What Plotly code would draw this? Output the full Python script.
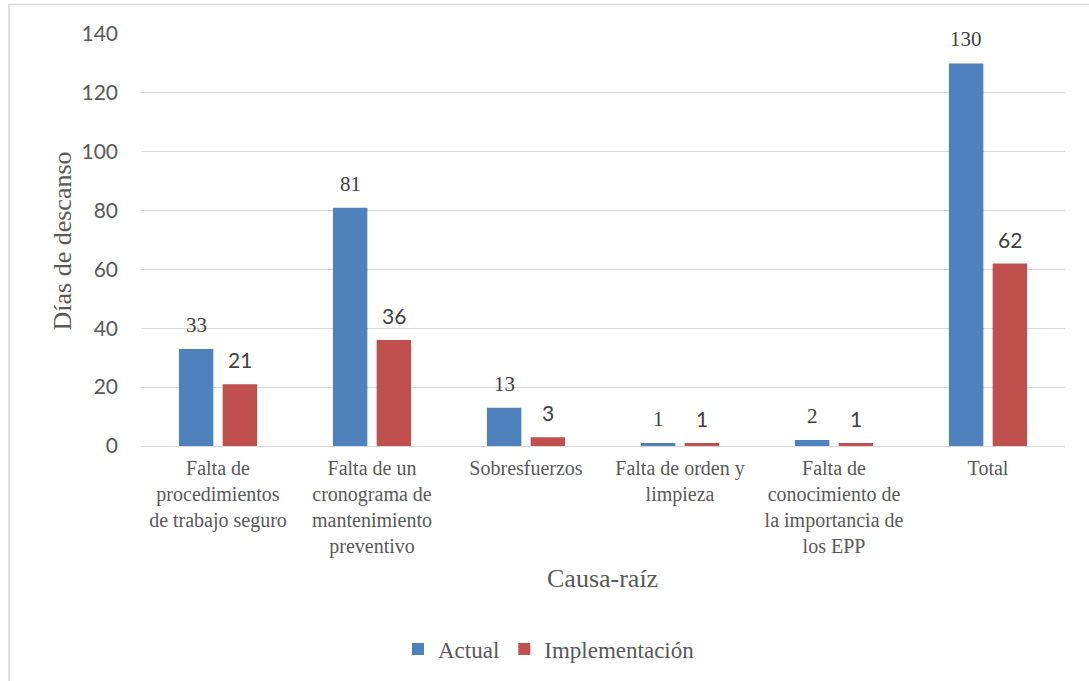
import plotly.graph_objects as go

# Root causes and rest days per scenario
categorias = [
    "Falta de<br>procedimientos<br>de trabajo seguro",
    "Falta de un<br>cronograma de<br>mantenimiento<br>preventivo",
    "Sobresfuerzos",
    "Falta de orden y<br>limpieza",
    "Falta de<br>conocimiento de<br>la importancia de<br>los EPP",
    "Total",
]
claves = ["c1", "c2", "c3", "c4", "c5", "c6"]
actual = [33, 81, 13, 1, 2, 130]
implementacion = [21, 36, 3, 1, 1, 62]
ticks_y = [0, 20, 40, 60, 80, 100, 120, 140]

AZUL = "#4F81BD"
ROJO = "#C0504D"
GRIS = "#595959"
SERIF = "Liberation Serif, Times New Roman, serif"
SANS = "Lato, Carlito, Calibri, sans-serif"

W, H = 1089, 681
L, R, T, B = 141, 24, 34, 234
pw, ph = W - L - R, H - T - B

fig = go.Figure()
fig.add_trace(go.Bar(name="Actual", x=claves, y=actual, marker_color=AZUL,
                     marker_line_width=0))
fig.add_trace(go.Bar(name="Implementación", x=claves, y=implementacion,
                     marker_color=ROJO, marker_line_width=0))

bargap = 0.432
slot = (pw / len(claves)) * (1 - bargap) / 2
for k, a, i in zip(claves, actual, implementacion):
    fig.add_annotation(x=k, y=a, xref="x", yref="y", text=str(a), showarrow=False,
                       xshift=-slot / 2, yanchor="bottom", yshift=10,
                       font=dict(family=SERIF, size=21, color="#404040"))
    fig.add_annotation(x=k, y=i, xref="x", yref="y", text=str(i), showarrow=False,
                       xshift=slot / 2, yanchor="bottom", yshift=10,
                       font=dict(family=SANS, size=21, color="#404040"))

# Axis titles
fig.add_annotation(text="Días de descanso", xref="paper", yref="paper",
                   x=(62 - L) / pw, y=(H - B - 242) / ph, textangle=-90,
                   showarrow=False, xanchor="center", yanchor="middle",
                   font=dict(family=SERIF, size=26, color=GRIS))
fig.add_annotation(text="Causa-raíz", xref="paper", yref="paper",
                   x=(602 - L) / pw, y=(H - B - 580) / ph,
                   showarrow=False, xanchor="center", yanchor="middle",
                   font=dict(family=SERIF, size=26, color=GRIS))

# Outer frame of the chart
fig.add_shape(type="rect", xref="paper", yref="paper",
              x0=(9 - L) / pw, x1=(W + 40 - L) / pw,
              y0=(H - B - (H + 40)) / ph, y1=(H - B - 4.5) / ph,
              line=dict(color="#D9D9D9", width=1.5), fillcolor="rgba(0,0,0,0)",
              layer="below")

fig.update_layout(
    width=W, height=H,
    margin=dict(l=L, r=R, t=T, b=B),
    paper_bgcolor="white", plot_bgcolor="white",
    barmode="group", bargap=bargap, bargroupgap=0.213,
    showlegend=True,
    legend=dict(orientation="h", xref="paper", yref="paper",
                x=(549 - L) / pw, y=(H - B - 649) / ph,
                xanchor="center", yanchor="middle",
                font=dict(family=SERIF, size=23, color=GRIS),
                itemwidth=30, traceorder="normal"),
    xaxis=dict(tickmode="array", tickvals=claves, ticktext=categorias,
               tickfont=dict(family=SERIF, size=20, color=GRIS),
               showline=False, showgrid=False, ticks="", ticklabelstandoff=8),
    yaxis=dict(range=[0, 140], tickmode="array", tickvals=ticks_y,
               tickfont=dict(family=SANS, size=21, color=GRIS),
               showgrid=True, gridcolor="#D9D9D9", gridwidth=1.3,
               zeroline=True, zerolinecolor="#D9D9D9", zerolinewidth=1.3,
               showline=False, ticks="", ticklabelstandoff=22),
)

fig.write_html("out.html")
